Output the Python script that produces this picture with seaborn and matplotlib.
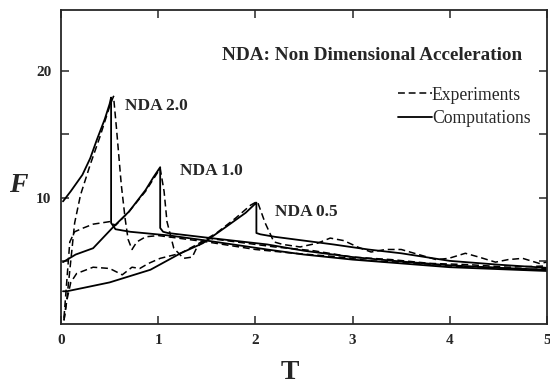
import numpy as np
import pandas as pd
import seaborn as sns
import matplotlib.pyplot as plt
from matplotlib.lines import Line2D

# -------------------------
# Data (T, F)
# -------------------------

# computations (solid)
comp_20_T = [0.02, 0.1, 0.22, 0.3, 0.37, 0.45, 0.5, 0.515, 0.515, 0.56, 0.71, 1.12, 1.5, 2.12, 2.5, 3.0, 3.5, 4.0, 4.5, 5.0]
comp_20_F = [9.7, 10.5, 11.8, 13.1, 14.6, 16.2, 17.4, 17.9, 8.0, 7.5, 7.3, 7.0, 6.6, 5.9, 5.5, 5.1, 4.8, 4.5, 4.35, 4.2]

comp_10_T = [0.02, 0.15, 0.33, 0.54, 0.7, 0.87, 0.95, 1.02, 1.02, 1.05, 1.1, 1.54, 2.12, 2.5, 3.0, 3.5, 4.0, 4.5, 5.0]
comp_10_F = [4.9, 5.5, 6.0, 7.7, 8.9, 10.6, 11.6, 12.4, 7.6, 7.3, 7.2, 6.8, 6.3, 5.8, 5.3, 4.95, 4.65, 4.45, 4.3]

comp_05_T = [0.02, 0.06, 0.25, 0.5, 0.92, 1.23, 1.46, 1.7, 1.9, 2.01, 2.01, 2.05, 2.2, 2.8, 3.16, 3.5, 4.0, 4.5, 5.0]
comp_05_F = [2.6, 2.6, 2.9, 3.3, 4.3, 5.6, 6.4, 7.7, 8.8, 9.6, 7.2, 7.1, 6.9, 6.3, 5.9, 5.6, 5.0, 4.7, 4.45]

# experiments (dashed)
exp_20_T = [0.03, 0.06, 0.1, 0.14, 0.2, 0.3, 0.4, 0.5, 0.54, 0.57, 0.62, 0.66, 0.69, 0.73, 0.78, 0.87, 1.0, 1.2, 1.5,
            2.0, 2.4, 2.8, 3.2, 3.6, 4.0, 4.4, 4.8, 5.0]
exp_20_F = [0.3, 2.0, 5.0, 8.0, 10.2, 12.6, 14.8, 17.2, 18.0, 15.5, 11.0, 8.3, 6.7, 5.9, 6.5, 6.9, 7.0, 6.8, 6.5,
            5.9, 5.6, 5.35, 5.0, 4.85, 4.6, 4.5, 4.3, 4.4]

exp_10_T = [0.03, 0.06, 0.09, 0.14, 0.23, 0.33, 0.5, 0.56, 0.7, 0.87, 0.97, 1.02, 1.06, 1.09, 1.16, 1.26, 1.35, 1.4,
            1.5, 1.8, 2.2, 2.6, 3.0, 3.4, 3.8, 4.2, 4.6, 5.0]
exp_10_F = [0.5, 3.5, 6.5, 7.3, 7.6, 7.9, 8.1, 7.8, 8.9, 10.5, 11.7, 12.3, 10.5, 8.1, 6.0, 5.2, 5.3, 6.1,
            6.8, 6.5, 6.1, 5.8, 5.3, 5.1, 4.8, 4.7, 4.5, 4.6]

exp_05_T = [0.03, 0.06, 0.1, 0.16, 0.33, 0.5, 0.63, 0.73, 0.81, 0.9, 1.02, 1.23, 1.4, 1.6, 1.8, 1.95, 2.02, 2.1, 2.19,
            2.28, 2.46, 2.64, 2.77, 2.91, 3.05, 3.19, 3.34, 3.5, 3.68, 3.86, 3.99, 4.16, 4.3, 4.47, 4.6, 4.75, 4.92, 5.0]
exp_05_F = [0.3, 1.9, 3.3, 4.0, 4.5, 4.4, 3.9, 4.5, 4.4, 4.8, 5.2, 5.6, 6.3, 7.2, 8.4, 9.4, 9.7, 8.0, 6.5,
            6.3, 6.1, 6.4, 6.8, 6.6, 6.1, 5.7, 5.9, 5.9, 5.5, 5.1, 5.2, 5.6, 5.3, 4.9, 5.1, 5.2, 4.8, 4.9]

curve_labels = ['NDA 2.0', 'NDA 1.0', 'NDA 0.5']
x_ticks = [0, 1, 2, 3, 4, 5]
y_ticks = [5, 10, 15, 20]
y_ticklabels = ['', '10', '', '20']

series = [
    ('comp', 'NDA 2.0', comp_20_T, comp_20_F),
    ('comp', 'NDA 1.0', comp_10_T, comp_10_F),
    ('comp', 'NDA 0.5', comp_05_T, comp_05_F),
    ('exp', 'NDA 2.0', exp_20_T, exp_20_F),
    ('exp', 'NDA 1.0', exp_10_T, exp_10_F),
    ('exp', 'NDA 0.5', exp_05_T, exp_05_F),
]

rows = []
for kind, nda, ts, fs in series:
    for i, (t, f) in enumerate(zip(ts, fs)):
        rows.append({'kind': kind, 'nda': nda, 'order': i, 'T': t, 'F': f})
df = pd.DataFrame(rows)

# -------------------------
# Plot
# -------------------------
sns.set_style("ticks")
plt.rcParams['font.family'] = ['Liberation Serif', 'DejaVu Serif']

fig = plt.figure(figsize=(5.5, 3.92), dpi=100)
ax = fig.add_axes([0.111, 0.173, 0.8835, 0.801])

dash = (0, (4.5, 2.5))
for (kind, nda), sub in df.groupby(['kind', 'nda'], sort=False):
    sub = sub.sort_values('order')
    sns.lineplot(data=sub, x='T', y='F', sort=False, estimator=None, ax=ax,
                 color='black', lw=1.3 if kind == 'comp' else 1.1,
                 linestyle='-' if kind == 'comp' else dash)

ax.set_xlim(0, 5)
ax.set_ylim(0, 24.8)
ax.set_xticks(x_ticks)
ax.set_yticks(y_ticks)
ax.set_yticklabels(y_ticklabels)
ax.tick_params(direction='in', top=True, right=True, length=6, width=1.1,
               labelsize=11, pad=7)
for lab in ax.get_xticklabels() + ax.get_yticklabels():
    lab.set_fontweight('bold')
for sp in ax.spines.values():
    sp.set_linewidth(1.3)

ax.set_xlabel('T', fontsize=20, fontweight='bold')
ax.xaxis.set_label_coords(0.47, -0.115)
ax.set_ylabel('F', fontsize=20, fontweight='bold', style='italic', rotation=0, va='center')
ax.yaxis.set_label_coords(-0.088, 0.443)

ax.text(1.66, 21.2, 'NDA: Non Dimensional Acceleration', fontsize=13.8, fontweight='bold', va='center')
label_pos = [(0.66, 17.2), (1.22, 12.1), (2.2, 8.9)]
for lab, (tx, fy) in zip(curve_labels, label_pos):
    ax.text(tx, fy, lab, fontsize=12.5, fontweight='bold', va='center')

handles = [Line2D([], [], color='black', lw=1.1, linestyle=dash),
           Line2D([], [], color='black', lw=1.3)]
ax.legend(handles, ['Experiments', 'Computations'], loc='upper left',
          bbox_to_anchor=(0.676, 0.785), frameon=False, fontsize=12.7,
          handlelength=1.9, handletextpad=0.0, labelspacing=0.35,
          borderpad=0)

fig.savefig('out.png', dpi=100)
